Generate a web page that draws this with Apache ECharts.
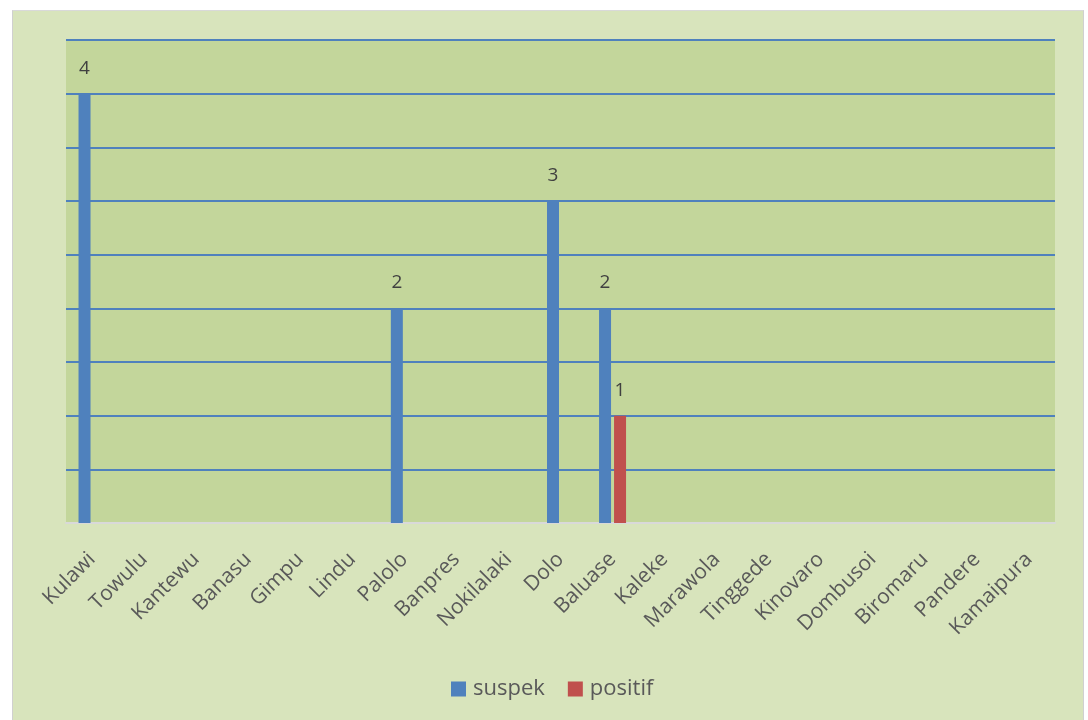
<!DOCTYPE html>
<html>
<head>
<meta charset="utf-8">
<script src="https://cdn.jsdelivr.net/npm/echarts@6/dist/echarts.min.js"></script>
<style>
  html, body { margin: 0; padding: 0; background: #ffffff; }
  #frame { position: absolute; left: 12px; top: 10px; width: 1072px; height: 710px;
           background: #d8e4bc; border-left: 1px solid #d0d0d0; border-top: 1px solid #d9d9d9;
           border-right: 1px solid #d0d0d0; box-sizing: border-box; }
  #chart { position: absolute; left: 0; top: 0; width: 1088px; height: 720px; }
</style>
</head>
<body>
<div id="frame"></div>
<div id="chart"></div>
<script>
// Villages along the x axis
const categories = ['Kulawi', 'Towulu', 'Kantewu', 'Banasu', 'Gimpu', 'Lindu', 'Palolo',
  'Banpres', 'Nokilalaki', 'Dolo', 'Baluase', 'Kaleke', 'Marawola', 'Tinggede',
  'Kinovaro', 'Dombusoi', 'Biromaru', 'Pandere', 'Kamaipura'];

// Case counts per village
const suspek  = [4, 0, 0, 0, 0, 0, 2, 0, 0, 3, 2, 0, 0, 0, 0, 0, 0, 0, 0];
const positif = [0, 0, 0, 0, 0, 0, 0, 0, 0, 0, 1, 0, 0, 0, 0, 0, 0, 0, 0];

const FONT = '"Open Sans", sans-serif';

const chart = echarts.init(document.getElementById('chart'), null, { renderer: 'canvas' });

function barLabel(params) {
  return params.value > 0 ? String(params.value) : '';
}

chart.setOption({
  backgroundColor: 'transparent',
  animation: false,
  grid: { left: 66, right: 33, top: 40, bottom: 197, containLabel: false,
          show: true, backgroundColor: '#c3d69b', borderWidth: 0 },
  legend: {
    bottom: 15, left: 446,
    itemWidth: 15, itemHeight: 15, itemGap: 23,
    icon: 'rect',
    textStyle: { fontFamily: FONT, fontSize: 22, color: '#595959', padding: [0, 0, 0, 2] },
    data: ['suspek', 'positif']
  },
  xAxis: {
    type: 'category',
    data: categories,
    axisLine: { show: true, lineStyle: { color: '#d9d9d9', width: 2 } },
    axisTick: { show: false },
    axisLabel: { interval: 0, rotate: 45, margin: 33, fontFamily: FONT, fontSize: 21, color: '#595959' }
  },
  yAxis: {
    type: 'value',
    min: 0, max: 4.5, interval: 0.5,
    axisLine: { show: false },
    axisTick: { show: false },
    axisLabel: { show: false },
    splitLine: { show: true, lineStyle: { color: '#4f81bd', width: 2 } }
  },
  series: [
    {
      name: 'suspek', type: 'bar', data: suspek,
      barWidth: 12, barGap: '25%',
      itemStyle: { color: '#4f81bd' },
      label: { show: true, position: 'top', distance: 16, formatter: barLabel,
               fontFamily: FONT, fontSize: 19, color: '#404040' }
    },
    {
      name: 'positif', type: 'bar', data: positif,
      barWidth: 12, barGap: '25%',
      itemStyle: { color: '#c0504d' },
      label: { show: true, position: 'top', distance: 16, formatter: barLabel,
               fontFamily: FONT, fontSize: 19, color: '#404040' }
    }
  ]
});
</script>
</body>
</html>
